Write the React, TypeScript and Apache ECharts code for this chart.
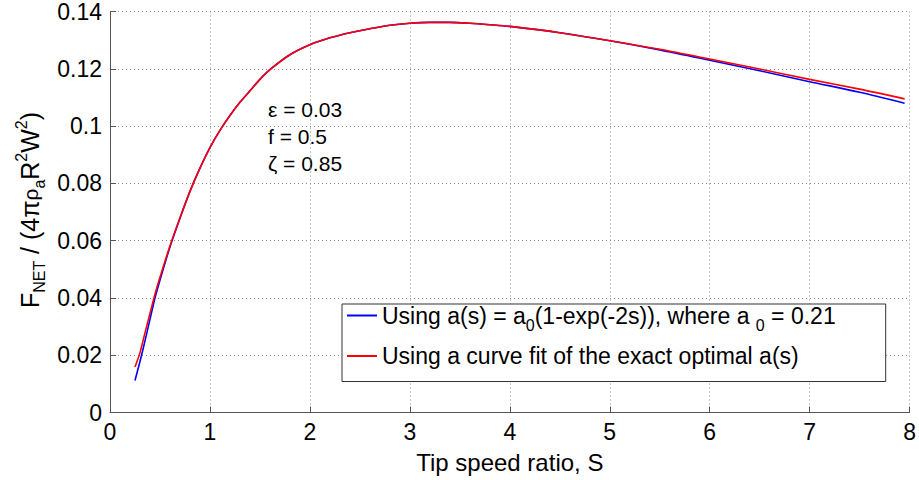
import React, { useEffect, useRef } from "react";
import * as echarts from "echarts";

// Tip speed ratio samples shared by both curves
const tipSpeedRatio = [
  0.25, 0.3, 0.35, 0.4, 0.45, 0.5, 0.6, 0.7, 0.8, 0.9, 1.0, 1.1, 1.2, 1.3, 1.4, 1.5, 1.6, 1.8,
  2.0, 2.2, 2.4, 2.6, 2.8, 3.0, 3.2, 3.4, 3.6, 3.8, 4.0, 4.5, 5.0, 5.5, 6.0, 6.5, 7.0, 7.5, 7.95,
];

// Normalised net force using a(s) = a0(1-exp(-2s)), a0 = 0.21
const forceApprox = [
  0.0112, 0.0178, 0.025, 0.0325, 0.04, 0.0462, 0.0578, 0.0678, 0.0772, 0.0853, 0.0925, 0.0985,
  0.1037, 0.1083, 0.1123, 0.1163, 0.1197, 0.1249, 0.1284, 0.1308, 0.1326, 0.134, 0.1352, 0.1359,
  0.1362, 0.1362, 0.1359, 0.1354, 0.1348, 0.1326, 0.1298, 0.1266, 0.123, 0.1193, 0.1155, 0.1118,
  0.108,
];

// Normalised net force using a curve fit of the exact optimal a(s)
const forceExactFit = [
  0.0159, 0.0209, 0.0278, 0.0346, 0.0413, 0.0472, 0.0582, 0.068, 0.0772, 0.0853, 0.0925, 0.0985,
  0.1037, 0.1083, 0.1123, 0.1163, 0.1197, 0.1249, 0.1284, 0.1308, 0.1326, 0.134, 0.1352, 0.1359,
  0.1362, 0.1362, 0.1359, 0.1354, 0.1348, 0.1326, 0.1298, 0.1268, 0.1234, 0.1199, 0.1163, 0.1129,
  0.1095,
];

const seriesNames = [
  "Using a(s) = a0(1-exp(-2s)), where a 0 = 0.21",
  "Using a curve fit of the exact optimal a(s)",
];

const legendRich: Record<string, string> = {
  [seriesNames[0]]:
    "{t|Using a(s) = a}{s|0}{t|(1-exp(-2s)), where a }{s|0}{t| = 0.21}",
  [seriesNames[1]]: "{t|Using a curve fit of the exact optimal a(s)}",
};

const parameterLines = ["ε = 0.03", "f = 0.5", "ζ = 0.85"];

const FONT = "'Liberation Sans', Arial, Helvetica, sans-serif";

export default function App() {
  const ref = useRef<HTMLDivElement>(null);

  useEffect(() => {
    if (!ref.current) return;
    const chart = echarts.init(ref.current, undefined, { renderer: "svg" });

    const gridLine = { show: true, lineStyle: { color: "#8a8a8a", width: 1, type: [1, 3] as any } };

    chart.setOption({
      animation: false,
      backgroundColor: "#ffffff",
      textStyle: { fontFamily: FONT },
      grid: { left: 110, right: 6, top: 10, bottom: 67.5 },
      xAxis: {
        type: "value",
        min: 0,
        max: 8,
        interval: 1,
        axisLine: { show: true, lineStyle: { color: "#555", width: 1 } },
        axisTick: { show: true, inside: true, length: 6, lineStyle: { color: "#555" } },
        axisLabel: { color: "#000", fontSize: 23, margin: 8, fontFamily: FONT },
        splitLine: gridLine,
        name: "Tip speed ratio, S",
        nameLocation: "middle",
        nameGap: 38,
        nameTextStyle: { color: "#000", fontSize: 24, fontFamily: FONT },
      },
      yAxis: {
        type: "value",
        min: 0,
        max: 0.14,
        interval: 0.02,
        axisLine: { show: true, lineStyle: { color: "#555", width: 1 } },
        axisTick: { show: true, inside: true, length: 6, lineStyle: { color: "#555" } },
        axisLabel: { color: "#000", fontSize: 23, margin: 8, fontFamily: FONT },
        splitLine: gridLine,
      },
      legend: {
        orient: "vertical",
        left: 342,
        top: 304,
        icon: "rect",
        itemWidth: 30,
        itemHeight: 2,
        itemGap: 11,
        padding: [0, 50, 14, 5],
        borderColor: "#333",
        borderWidth: 1,
        backgroundColor: "#fff",
        data: seriesNames,
        formatter: (name: string) => legendRich[name],
        textStyle: {
          color: "#000",
          fontFamily: FONT,
          rich: {
            t: { fontSize: 23, lineHeight: 36, verticalAlign: "middle", fontFamily: FONT },
            s: { fontSize: 16, lineHeight: 16, verticalAlign: "bottom", fontFamily: FONT },
          },
        },
      },
      series: [
        {
          name: seriesNames[0],
          type: "line",
          symbol: "none",
          smooth: 0.3,
          lineStyle: { color: "#0000ff", width: 1.6 },
          itemStyle: { color: "#0000ff" },
          data: tipSpeedRatio.map((s, i) => [s, forceApprox[i]]),
        },
        {
          name: seriesNames[1],
          type: "line",
          symbol: "none",
          smooth: 0.3,
          lineStyle: { color: "#ff0000", width: 1.6 },
          itemStyle: { color: "#ff0000" },
          data: tipSpeedRatio.map((s, i) => [s, forceExactFit[i]]),
        },
      ],
      graphic: [
        {
          type: "text",
          x: 30,
          y: 210,
          rotation: Math.PI / 2,
          style: {
            text: "{t|F}{sub|NET}{t| / (4π}{r|ρ}{sub|a}{t|R}{sup|2}{t|W}{sup|2}{t|)}",
            align: "center",
            verticalAlign: "middle",
            fill: "#000",
            rich: {
              t: { fontSize: 25, lineHeight: 34, verticalAlign: "middle", fontFamily: FONT, fill: "#000" },
              r: { fontSize: 21, lineHeight: 34, verticalAlign: "middle", fontFamily: FONT, fill: "#000" },
              sub: { fontSize: 16, lineHeight: 16, verticalAlign: "bottom", fontFamily: FONT, fill: "#000" },
              sup: { fontSize: 16, lineHeight: 16, verticalAlign: "top", fontFamily: FONT, fill: "#000" },
            },
          },
        },
        ...parameterLines.map((line, i) => ({
          type: "text",
          left: 268,
          top: 99 + i * 27,
          style: { text: line, fontSize: 21, fontFamily: FONT, fill: "#000" },
        })),
      ],
    });

    return () => chart.dispose();
  }, []);

  return (
    <div
      ref={ref}
      style={{ position: "fixed", left: 0, top: 0, width: 919, height: 480 }}
    />
  );
}
